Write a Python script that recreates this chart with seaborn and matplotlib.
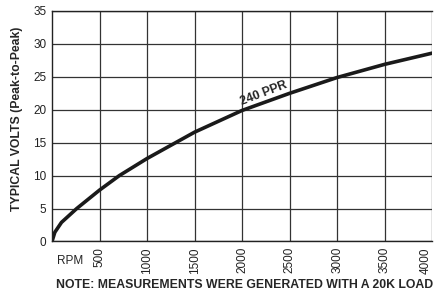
import matplotlib
matplotlib.use("Agg")
import matplotlib.pyplot as plt
import seaborn as sns
import pandas as pd

rpm = [0, 30, 100, 260, 500, 708, 1000, 1500, 2000, 2500, 3000, 3500, 4000]
volts = [0, 1.4, 2.9, 5.0, 7.8, 10.0, 12.6, 16.6, 19.9, 22.5, 24.9, 26.9, 28.6]
x_ticks = [500, 1000, 1500, 2000, 2500, 3000, 3500, 4000]
y_ticks = [0, 5, 10, 15, 20, 25, 30, 35]

df = pd.DataFrame({"rpm": rpm, "volts": volts})

sns.set_style("white")
plt.rcParams['font.family'] = ['Liberation Sans', 'DejaVu Sans']

fig = plt.figure(figsize=(4.35, 2.94), dpi=100)
ax = fig.add_axes([0.1195, 0.1786, 0.874, 0.784])

sns.lineplot(data=df, x="rpm", y="volts", ax=ax, color="#1a1a1a", linewidth=2.6)

ax.set_xlim(0, 4000)
ax.set_ylim(0, 35)
ax.set_xticks(x_ticks)
ax.set_yticks(y_ticks)
ax.set_xticklabels([str(t) for t in x_ticks], rotation=90, fontsize=8.5)
ax.set_yticklabels([str(t) for t in y_ticks], fontsize=8.5)
# last label sits on the right edge, keep it inside the picture
ax.get_xticklabels()[-1].set_ha("right")
ax.tick_params(axis='both', length=0, pad=4, colors="#222222")
ax.grid(True, color="#333333", linewidth=0.9)
for side in ["left", "top", "bottom"]:
    ax.spines[side].set_color("#222222")
    ax.spines[side].set_linewidth(1.0)
ax.spines["right"].set_visible(False)
ax.set_xlabel("")
ax.set_ylabel("")

ax.text(2230, 22.5, "240 PPR", rotation=21, fontsize=8.8, fontweight="bold",
        ha="center", va="center")

fig.text(17 / 435, 1 - 119 / 294, "TYPICAL VOLTS (Peak-to-Peak)", rotation=90,
         fontsize=8.8, fontweight="bold", ha="center", va="center")
fig.text(57 / 435, 1 - 261 / 294, "RPM", fontsize=8.5, va="center", ha="left")
fig.text(56 / 435, 1 - 285 / 294, "NOTE: MEASUREMENTS WERE GENERATED WITH A 20K LOAD",
         fontsize=8.85, fontweight="bold", va="center", ha="left")

fig.savefig("out.png", dpi=100)
plt.close(fig)
